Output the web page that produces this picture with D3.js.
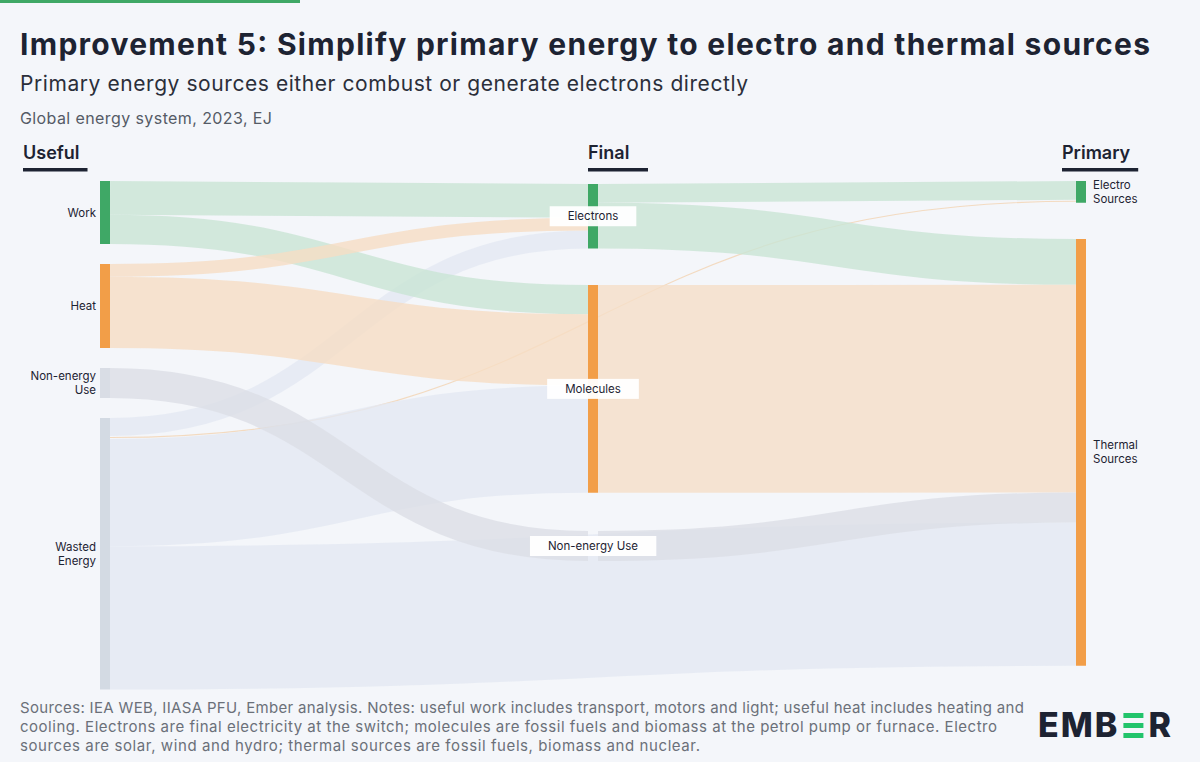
<!DOCTYPE html>
<html><head><meta charset="utf-8">
<script src="https://cdn.jsdelivr.net/npm/d3@7/dist/d3.min.js"></script>
<style>body{margin:0;background:#f4f6fa;font-family:Inter,"Noto Sans",sans-serif}</style>
</head><body><svg id="c" width="1200" height="762"></svg>
<script>
// ---- data (EJ) ----
const leftNodes = ["Work","Heat","Non-energy Use","Wasted Energy"];
const midNodes = ["Electrons","Molecules","Non-energy Use (final)"];
const rightNodes = ["Electro Sources","Thermal Sources"];
const linkSources = ["Work","Work","Heat","Heat","Non-energy Use","Wasted Energy","Wasted Energy","Wasted Energy","Wasted Energy","Electrons","Electrons","Molecules","Non-energy Use (final)"];
const linkTargets = ["Electrons","Molecules","Electrons","Molecules","Non-energy Use (final)","Electrons","Electro Sources","Molecules","Thermal Sources","Electro Sources","Thermal Sources","Thermal Sources","Thermal Sources"];
const linkValues = [45,39,17,95,40,24,4,143,191,25,61,277,40];
const columnTitles = ["Useful","Final","Primary"];

// ---- layout ----
const svg = d3.select("#c");
const k = d3.scaleLinear().domain([0,100]).range([0,75]);
const colX = {0:100,1:588,2:1076}, nodeW = 10;
const nodeTop = {"Work":181,"Heat":264,"Non-energy Use":368,"Wasted Energy":418,"Electrons":184,"Molecules":285,"Non-energy Use (final)":531,"Electro Sources":181,"Thermal Sources":239};
const colors = {green:"#3fa866",orange:"#f29e48",gray:"#d9dde5",blue:"#d3dae3"};
const nodeColor = {"Work":colors.green,"Heat":colors.orange,"Non-energy Use":colors.gray,"Wasted Energy":colors.blue,"Electrons":colors.green,"Molecules":colors.orange,"Non-energy Use (final)":"none","Electro Sources":colors.green,"Thermal Sources":colors.orange};
const linkColor = {"Work":"#c9e5d4","Heat":"#f6ddc4","Non-energy Use":"#dcdfe6","Wasted Energy":"#e4e9f2","Electrons":"#c9e5d4","Molecules":"#f5dfc8","Non-energy Use (final)":"#dcdfe6"};
const nodes = {};
[leftNodes,midNodes,rightNodes].forEach((arr,c)=>arr.forEach(n=>nodes[n]={name:n,col:c,x:colX[c],y0:nodeTop[n],outY:nodeTop[n],inY:nodeTop[n],inV:0,outV:0}));
const links = linkValues.map((v,i)=>({s:nodes[linkSources[i]],t:nodes[linkTargets[i]],v}));
links.forEach(l=>{l.s.outV+=l.v;l.t.inV+=l.v;});
Object.values(nodes).forEach(n=>n.h=k(Math.max(n.inV,n.outV)));
links.forEach(l=>{l.w=k(l.v);l.sy=l.s.outY+l.w/2;l.s.outY+=l.w;});
links.slice().sort((a,b)=>a.sy-b.sy).forEach(l=>{l.ty=l.t.inY+l.w/2;l.t.inY+=l.w;});

// ---- header ----
svg.append("rect").attr("x",0).attr("y",0).attr("width",300).attr("height",3).attr("fill","#3fa866");
svg.append("text").attr("x",20).attr("y",55).attr("font-size",30).attr("font-weight",700).attr("fill","#1d2332").attr("textLength",1130).attr("lengthAdjust","spacing").text("Improvement 5: Simplify primary energy to electro and thermal sources");
svg.append("text").attr("x",20).attr("y",91).attr("font-size",21).attr("fill","#2b2f3a").attr("textLength",728).attr("lengthAdjust","spacing").text("Primary energy sources either combust or generate electrons directly");
svg.append("text").attr("x",20).attr("y",124).attr("font-size",16).attr("fill","#555b66").attr("textLength",252).attr("lengthAdjust","spacing").text("Global energy system, 2023, EJ");
const titleX=[23,588,1062];
columnTitles.forEach((t,i)=>{
  const tx=svg.append("text").attr("x",titleX[i]).attr("y",159).attr("font-size",18).attr("font-weight",600).attr("fill","#1d2332").text(t);
  const w=tx.node().getComputedTextLength();
  svg.append("rect").attr("x",titleX[i]).attr("y",168).attr("width",Math.max(w+8,60)).attr("height",3.5).attr("fill","#1d2332");
});

// ---- links ----
const gen = d3.linkHorizontal().x(d=>d[0]).y(d=>d[1]);
const isThin = l=>l.t.name==="Electro Sources"&&l.s.name==="Wasted Energy";
const order = links.slice().sort((a,b)=>(b.s.name==="Wasted Energy")-(a.s.name==="Wasted Energy"));
svg.append("g").selectAll("path").data(order).join("path")
  .attr("d",l=>gen({source:[l.s.x+nodeW,l.sy],target:[l.t.x,l.ty]}))
  .attr("fill","none")
  .attr("stroke",l=>isThin(l)?"#f3d3b2":linkColor[l.s.name])
  .attr("stroke-opacity",l=>isThin(l)?0.8:0.8)
  .attr("stroke-width",l=>isThin(l)?1.2:l.w);

// ---- nodes ----
svg.append("g").selectAll("rect").data(Object.values(nodes)).join("rect")
  .attr("x",d=>d.x).attr("y",d=>d.y0).attr("width",nodeW).attr("height",d=>d.h)
  .attr("fill",d=>nodeColor[d.name]);

// ---- labels ----
const labelLines = {"Work":["Work"],"Heat":["Heat"],"Non-energy Use":["Non-energy","Use"],"Wasted Energy":["Wasted","Energy"],"Electrons":["Electrons"],"Molecules":["Molecules"],"Non-energy Use (final)":["Non-energy Use"],"Electro Sources":["Electro","Sources"],"Thermal Sources":["Thermal","Sources"]};
Object.values(nodes).forEach(n=>{
  const lines=labelLines[n.name], cy=n.y0+n.h/2, lh=14;
  const g=svg.append("g");
  const t=g.append("text").attr("font-size",11.5).attr("fill","#1d2332")
    .attr("text-anchor",n.col===0?"end":n.col===1?"middle":"start");
  const x=n.col===0?n.x-4:n.col===1?n.x+nodeW/2:n.x+nodeW+7;
  lines.forEach((s,i)=>t.append("tspan").attr("x",x).attr("y",cy+4-(lines.length-1)*lh/2+i*lh).text(s));
  if(n.col===1){const b=t.node().getBBox();g.insert("rect","text").attr("x",b.x-18).attr("y",b.y-3).attr("width",b.width+36).attr("height",b.height+6).attr("fill","#fff").attr("opacity",0.95);}
});

// ---- footer ----
const foot=["Sources: IEA WEB, IIASA PFU, Ember analysis. Notes: useful work includes transport, motors and light; useful heat includes heating and","cooling. Electrons are final electricity at the switch; molecules are fossil fuels and biomass at the petrol pump or furnace. Electro","sources are solar, wind and hydro; thermal sources are fossil fuels, biomass and nuclear."];
const footW=[1004,977,680];
foot.forEach((s,i)=>svg.append("text").attr("x",20).attr("y",713+i*19).attr("font-size",15).attr("fill","#6b7079").attr("textLength",footW[i]).attr("lengthAdjust","spacing").text(s));
const lg=svg.append("g");
const t1=lg.append("text").attr("x",1038).attr("y",737).attr("font-size",34).attr("font-weight",800).attr("fill","#1d2332").attr("letter-spacing",2).text("EMB");
const w1=t1.node().getComputedTextLength()+2+1038+2;
[0,1,2].forEach(i=>lg.append("rect").attr("x",w1).attr("y",713+i*10).attr("width",20).attr("height",5).attr("fill","#22c46b"));
lg.append("text").attr("x",w1+25).attr("y",737).attr("font-size",34).attr("font-weight",800).attr("fill","#1d2332").text("R");
</script></body></html>
